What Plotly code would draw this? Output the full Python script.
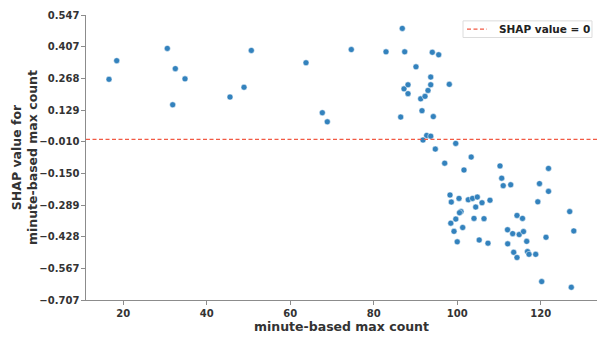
import plotly.graph_objects as go

# Feature values (minute-based max count) and their SHAP contributions
max_count = [
    16.57, 18.42, 30.54, 32.46, 34.78, 31.83, 45.56, 48.92, 50.67, 63.77,
    67.68, 68.87, 74.62, 82.94, 86.84, 87.42, 86.46, 87.25, 88.21, 88.21,
    90.12, 91.25, 92.28, 91.56, 93.00, 93.65, 93.65, 94.03, 95.56, 98.10,
    94.27, 92.69, 93.65, 91.80, 99.64, 94.75, 103.35, 97.00, 110.25, 121.87,
    101.62, 110.66, 111.02, 112.81, 119.71, 121.87, 119.31, 98.27, 98.58, 100.43,
    102.65, 103.66, 104.81, 107.85, 105.94, 104.43, 100.91, 100.55, 99.66, 98.46,
    104.02, 106.42, 101.31, 99.23, 100.00, 105.27, 107.37, 114.32, 115.64, 126.95,
    112.05, 113.29, 114.85, 115.88, 127.93, 121.27, 112.09, 116.65, 113.53, 116.84,
    117.20, 118.80, 114.32, 120.24, 127.33,
]
shap_values = [
    0.264, 0.346, 0.400, 0.311, 0.266, 0.152, 0.186, 0.229, 0.391, 0.337,
    0.117, 0.077, 0.395, 0.385, 0.488, 0.385, 0.098, 0.222, 0.240, 0.201,
    0.319, 0.178, 0.189, 0.126, 0.215, 0.240, 0.274, 0.383, 0.372, 0.242,
    0.100, 0.017, 0.014, -0.003, -0.018, -0.043, -0.078, -0.105, -0.117, -0.128,
    -0.135, -0.171, -0.204, -0.200, -0.195, -0.229, -0.275, -0.245, -0.276, -0.260,
    -0.266, -0.260, -0.254, -0.268, -0.279, -0.298, -0.318, -0.323, -0.351, -0.369,
    -0.348, -0.349, -0.388, -0.405, -0.451, -0.443, -0.457, -0.335, -0.348, -0.318,
    -0.398, -0.415, -0.419, -0.406, -0.403, -0.431, -0.460, -0.449, -0.497, -0.494,
    -0.506, -0.506, -0.520, -0.626, -0.651,
]

x_ticks = [20, 40, 60, 80, 100, 120]
y_tick_vals = [-0.707, -0.567, -0.428, -0.289, -0.150, -0.010, 0.129, 0.268, 0.407, 0.547]
y_tick_text = ["\u22120.707", "\u22120.567", "\u22120.428", "\u22120.289", "\u22120.150",
               "\u22120.010", "0.129", "0.268", "0.407", "0.547"]

x_range = [11.06, 133.49]
y_range = [-0.707, 0.547]
reference_level = 0.0
reference_label = "SHAP value = 0"

FONT = "DejaVu Sans"
TEXT = "#333333"
AXIS = "#8c8c8c"
POINT_COLOR = "#3382bd"
LINE_COLOR = "#f25a44"
DASH = "4px,2.5px"

fig = go.Figure()

fig.add_trace(go.Scatter(
    x=max_count, y=shap_values, mode="markers",
    marker=dict(size=6, color=POINT_COLOR, line=dict(color="white", width=0.5)),
    showlegend=False, hoverinfo="x+y",
))

fig.add_trace(go.Scatter(
    x=x_range, y=[reference_level, reference_level], mode="lines",
    line=dict(color=LINE_COLOR, width=1.2, dash=DASH),
    name=reference_label, showlegend=False,
))

# Compact legend box in the upper-right corner
fig.add_shape(type="rect", xref="paper", yref="paper",
              x0=0.7378, x1=0.9902, y0=0.921, y1=0.9794,
              line=dict(color="#dcdcdc", width=1), fillcolor="rgba(255,255,255,0.85)")
fig.add_shape(type="line", xref="paper", yref="paper",
              x0=0.7456, x1=0.7847, y0=0.9502, y1=0.9502,
              line=dict(color=LINE_COLOR, width=1.2, dash=DASH))
fig.add_annotation(xref="paper", yref="paper", x=0.8043, y=0.9502,
                   xanchor="left", yanchor="middle", showarrow=False,
                   text="<b>" + reference_label + "</b>",
                   font=dict(size=10.5, family=FONT, color="#222222"))

# Two-line y-axis title
fig.add_annotation(xref="paper", yref="paper", x=0, y=0.5, xshift=-61.5,
                   xanchor="center", yanchor="middle", showarrow=False, textangle=-90,
                   text="<b>SHAP value for<br>minute-based max count</b>",
                   font=dict(size=12.5, family=FONT, color=TEXT))

fig.update_layout(
    width=606, height=338,
    margin=dict(l=86, r=9, t=15, b=32),
    paper_bgcolor="white", plot_bgcolor="white",
    font=dict(family=FONT, color=TEXT),
    showlegend=False,
)

fig.update_xaxes(
    range=x_range, tickvals=x_ticks, showgrid=False, zeroline=False,
    showline=True, linecolor=AXIS, linewidth=1.3,
    ticks="outside", ticklen=3.5, tickcolor=AXIS, tickwidth=1,
    tickfont=dict(size=10, family=FONT, color=TEXT, weight="bold"),
    title=dict(text="<b>minute-based max count</b>", font=dict(size=12.5, family=FONT, color=TEXT),
               standoff=2),
)
fig.update_yaxes(
    range=y_range, tickvals=y_tick_vals, ticktext=y_tick_text,
    showgrid=False, zeroline=False,
    showline=True, linecolor=AXIS, linewidth=1.3,
    ticks="outside", ticklen=3.5, tickcolor=AXIS, tickwidth=1,
    tickfont=dict(size=10, family=FONT, color=TEXT, weight="bold"),
)

fig.write_html("out.html")
